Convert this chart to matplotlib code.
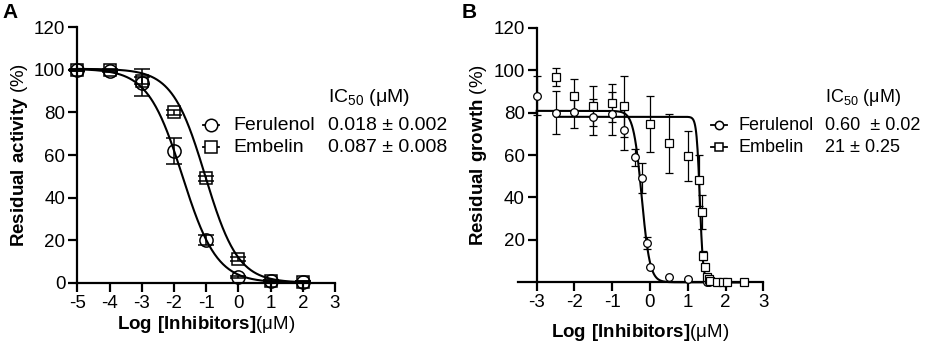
import numpy as np
import matplotlib
matplotlib.use("Agg")
import matplotlib.pyplot as plt
from matplotlib.lines import Line2D

plt.rcParams['font.family'] = ['Liberation Sans', 'DejaVu Sans']
plt.rcParams['mathtext.fontset'] = 'custom'
plt.rcParams['mathtext.rm'] = 'Liberation Sans'
plt.rcParams['mathtext.bf'] = 'Liberation Sans:bold'
plt.rcParams['axes.unicode_minus'] = False

# panel A: enzyme activity
a_fer_x = [-5, -4, -3, -2, -1, 0, 1, 2]
a_fer_y = [100, 99.5, 94, 62, 20, 2.5, 1, 0.5]
a_fer_err = [0.5, 0.5, 6.5, 6, 2.5, 0.5, 0.5, 0.3]
a_emb_x = [-5, -4, -3, -2, -1, 0, 1, 2]
a_emb_y = [100, 100, 95, 80, 49, 11, 1, 0.5]
a_emb_err = [0.5, 0.5, 1.5, 1, 1, 1, 0.5, 0.3]
# fitted curves: top, log IC50, hill slope, x-range
a_fer_fit = (100.5, -1.74, 0.81, -5, 2)
a_emb_fit = (100.5, -1.03, 0.85, -5, 2)

# panel B: growth
b_fer_x = [-3, -2.5, -2, -1.5, -1, -0.7, -0.4, -0.2, -0.09, 0, 0.5, 1, 1.5, 1.55]
b_fer_y = [88, 80, 80.5, 78, 79.5, 72, 59, 49, 18.5, 7, 2.4, 1.5, 0.3, 0.3]
b_fer_err = [9, 10, 8, 8.5, 10, 9.5, 4, 7, 3, 0, 0, 0, 0, 0]
b_emb_x = [-2.5, -2, -1.5, -1, -0.7, 0, 0.5, 1, 1.31, 1.37, 1.41, 1.46, 1.5, 1.55, 1.6, 1.77, 1.94, 2.03, 2.5]
b_emb_y = [96.6, 88, 83, 84.5, 83, 74.6, 65.5, 59.5, 48, 33, 12.6, 7.4, 2.5, 1.4, 0.5, 0.3, 0.3, 0.3, 0.3]
b_emb_err = [4.3, 8, 9.4, 9, 14.3, 13.4, 14, 11.7, 12, 8, 2, 1, 0, 0, 0, 0, 0, 0, 0]
b_fer_fit = (80.8, -0.22, 4.0, -3, 2.5)
b_emb_fit = (78.0, 1.32, 10.0, -2.5, 2.5)

legend_names = ['Ferulenol', 'Embelin']
a_ic50 = ['0.018 \u00b1 0.002', '0.087 \u00b1 0.008']
b_ic50 = ['0.60  \u00b1 0.02', '21 \u00b1 0.25']

MU = '\u03bc'
W, H = 927, 344
fig = plt.figure(figsize=(W / 100, H / 100), dpi=100)


def px(x0, y0, x1, y1):
    return [x0 / W, 1 - y1 / H, (x1 - x0) / W, (y1 - y0) / H]


def curve(ax, p):
    top, x0, h, lo, hi = p
    xs = np.linspace(lo, hi, 400)
    ax.plot(xs, top / (1 + 10 ** ((xs - x0) * h)), color='black', lw=1.5, clip_on=False, zorder=2)


def style(ax):
    for s in ['top', 'right']:
        ax.spines[s].set_visible(False)
    for s in ['left', 'bottom']:
        ax.spines[s].set_linewidth(1.6)
    ax.tick_params(direction='out', length=6.5, width=1.6, labelsize=13.5, pad=2)


def legend(x0, xt, xv, vals, ms, fs, ys=(125, 147)):
    markers = ['o', 's']
    for i, y in enumerate(ys):
        fig.add_artist(Line2D([x0 / W, (x0 + 16) / W], [1 - y / H] * 2, color='black', lw=1.3,
                              transform=fig.transFigure))
        fig.add_artist(Line2D([(x0 + 8) / W], [1 - y / H], color='black', lw=0, marker=markers[i],
                              markersize=ms, markerfacecolor='white', markeredgewidth=1.1,
                              transform=fig.transFigure))
        fig.text(xt / W, 1 - y / H, legend_names[i], fontsize=fs, va='center', ha='left')
        fig.text(xv / W, 1 - y / H, vals[i], fontsize=fs, va='center', ha='left')
    fig.text(xv / W, 1 - 97 / H, 'IC$_{50}$ (' + MU + 'M)', fontsize=fs, va='center', ha='left')


# ---- panel A ----
axA = fig.add_axes(px(77.3, 27.3, 335, 282.7))
style(axA)
curve(axA, a_fer_fit)
curve(axA, a_emb_fit)
axA.errorbar(a_fer_x, a_fer_y, yerr=a_fer_err, fmt='o', ms=9.5, mfc='none', mec='black', mew=1.1,
             ecolor='black', elinewidth=1.1, capsize=6, capthick=1.1, clip_on=False, zorder=3)
axA.errorbar(a_emb_x, a_emb_y, yerr=a_emb_err, fmt='s', ms=8, mfc='none', mec='black', mew=1.1,
             ecolor='black', elinewidth=1.1, capsize=6, capthick=1.1, clip_on=False, zorder=3)
axA.set_xlim(-5, 3)
axA.set_ylim(0, 120)
axA.set_xticks(range(-5, 4))
axA.set_yticks(range(0, 121, 20))
axA.set_xlabel(r'$\mathbf{Log\ [Inhibitors]}$(' + MU + 'M)', fontsize=13.5, labelpad=2)
axA.set_ylabel(r'$\mathbf{Residual\ activity}$ (%)', fontsize=13.5, labelpad=3)

# ---- panel B ----
axB = fig.add_axes(px(517.8, 27.7, 763.3, 282.3))
style(axB)
axB.spines['left'].set_position(('data', -3))
curve(axB, b_fer_fit)
curve(axB, b_emb_fit)
axB.errorbar(b_fer_x, b_fer_y, yerr=b_fer_err, fmt='o', ms=5.5, mfc='white', mec='black', mew=0.9,
             ecolor='black', elinewidth=0.9, capsize=3, capthick=0.9, clip_on=False, zorder=3)
axB.errorbar(b_emb_x, b_emb_y, yerr=b_emb_err, fmt='s', ms=5.5, mfc='white', mec='black', mew=0.9,
             ecolor='black', elinewidth=0.9, capsize=3, capthick=0.9, clip_on=False, zorder=3)
axB.set_xlim(-3.5, 3)
axB.set_ylim(0, 120)
axB.set_xticks(range(-3, 4))
axB.set_yticks(range(20, 121, 20))
axB.set_xlabel(r'$\mathbf{Log\ [Inhibitors]}$(' + MU + 'M)', fontsize=13.5, labelpad=8)
axB.set_ylabel(r'$\mathbf{Residual\ growth}$ (%)', fontsize=13.5, labelpad=3)

legend(203, 233, 328, a_ic50, 9, 14)
legend(711, 739, 825, b_ic50, 6, 13)

fig.text(2 / W, 1 - 13 / H, 'A', fontsize=15, fontweight='bold', va='center', ha='left')
fig.text(462 / W, 1 - 13 / H, 'B', fontsize=15, fontweight='bold', va='center', ha='left')

fig.savefig('out.png', dpi=100)
